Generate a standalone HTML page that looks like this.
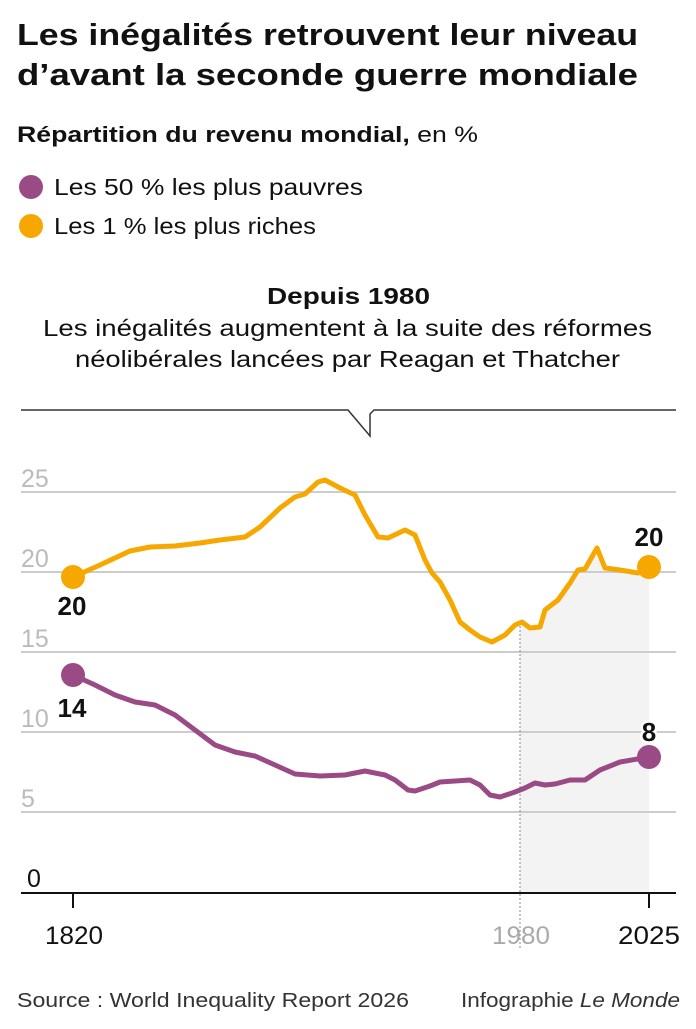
<!DOCTYPE html>
<html><head><meta charset="utf-8"><style>
body{margin:0;background:#fff;width:696px;height:1024px;overflow:hidden;font-family:"Liberation Sans",sans-serif;}
</style></head><body>
<svg width="696" height="1024" xmlns="http://www.w3.org/2000/svg" font-family="Liberation Sans, sans-serif">
<text x="17" y="45" font-size="31" font-weight="bold" fill="#111" textLength="621" lengthAdjust="spacingAndGlyphs">Les inégalités retrouvent leur niveau</text>
<text x="17" y="85" font-size="31" font-weight="bold" fill="#111" textLength="621" lengthAdjust="spacingAndGlyphs">d’avant la seconde guerre mondiale</text>
<text x="17" y="142" font-size="22" fill="#111" textLength="461" lengthAdjust="spacingAndGlyphs"><tspan font-weight="bold">Répartition du revenu mondial,</tspan> en %</text>
<circle cx="31" cy="187" r="12" fill="#9a4a84"/>
<text x="54" y="195" font-size="23" fill="#111" textLength="309" lengthAdjust="spacingAndGlyphs">Les 50 % les plus pauvres</text>
<circle cx="31" cy="226" r="12" fill="#f6a800"/>
<text x="54" y="234" font-size="23" fill="#111" textLength="262" lengthAdjust="spacingAndGlyphs">Les 1 % les plus riches</text>
<text x="267" y="304" font-size="23" font-weight="bold" fill="#111" textLength="163" lengthAdjust="spacingAndGlyphs">Depuis 1980</text>
<text x="43" y="336" font-size="23" fill="#111" textLength="609" lengthAdjust="spacingAndGlyphs">Les inégalités augmentent à la suite des réformes</text>
<text x="75" y="367" font-size="23" fill="#111" textLength="545" lengthAdjust="spacingAndGlyphs">néolibérales lancées par Reagan et Thatcher</text>
<path d="M21 410 H348 L370 436 V414 L374 410 H676" fill="none" stroke="#333" stroke-width="1.5"/>
<polygon fill="#f3f3f3" points="520,622 522,622 530,628 540,627 545,610 558,600 570,583 578,570 585,569 597,548 605,568 620,570 638,573 649,567 649,893 520,893"/>
<g stroke="#ccc" stroke-width="2">
<line x1="21" y1="492" x2="676" y2="492"/><line x1="21" y1="572" x2="676" y2="572"/>
<line x1="21" y1="652" x2="676" y2="652"/><line x1="21" y1="732" x2="676" y2="732"/>
<line x1="21" y1="812" x2="676" y2="812"/></g>
<line x1="520" y1="622" x2="520" y2="948" stroke="#888" stroke-width="1" stroke-dasharray="2,2"/>
<line x1="21" y1="893" x2="676" y2="893" stroke="#111" stroke-width="2"/>
<line x1="73" y1="893" x2="73" y2="908" stroke="#111" stroke-width="2"/>
<line x1="649" y1="893" x2="649" y2="908" stroke="#111" stroke-width="2"/>
<g font-size="25" fill="#bbb"><text x="21" y="487">25</text><text x="21" y="567">20</text><text x="21" y="647">15</text><text x="21" y="727">10</text><text x="21" y="807">5</text></g>
<text x="27" y="887" font-size="25" fill="#111">0</text>
<text x="45" y="944" font-size="25" fill="#111" textLength="58" lengthAdjust="spacingAndGlyphs">1820</text>
<text x="492" y="944" font-size="25" fill="#aaa" textLength="58" lengthAdjust="spacingAndGlyphs">1980</text>
<text x="618" y="944" font-size="25" fill="#111" textLength="62" lengthAdjust="spacingAndGlyphs">2025</text>
<polyline fill="none" stroke="#f6a800" stroke-width="5" stroke-linejoin="round" points="73,577 100,565 130,551 150,547 175,546 200,543 220,540 245,537 260,527 280,508 295,497 305,494 318,482 325,480 340,488 355,495 365,515 378,537 388,538 405,530 415,535 425,560 432,573 440,582 450,600 460,622 470,630 480,637 492,642 505,635 515,625 522,622 530,628 540,627 545,610 558,600 570,583 578,570 585,569 597,548 605,568 620,570 638,573 649,567"/>
<polyline fill="none" stroke="#9a4a84" stroke-width="5" stroke-linejoin="round" points="73,675 95,685 115,695 135,702 155,705 175,715 195,730 215,745 235,752 255,756 275,765 295,774 320,776 345,775 365,771 385,775 395,780 408,790 415,791 430,786 440,782 455,781 470,780 480,785 490,795 500,797 515,792 525,788 535,783 545,785 555,784 570,780 585,780 600,770 620,762 649,757"/>
<circle cx="73" cy="577" r="12" fill="#f6a800"/><circle cx="649" cy="567" r="12" fill="#f6a800"/>
<circle cx="73" cy="675" r="12" fill="#9a4a84"/><circle cx="649" cy="757" r="12" fill="#9a4a84"/>
<g font-size="26" font-weight="bold" text-anchor="middle" fill="#111" stroke="#fff" stroke-width="5" paint-order="stroke">
<text x="72" y="615">20</text><text x="72" y="717">14</text><text x="649" y="546">20</text><text x="649" y="741">8</text></g>
<text x="17" y="1007" font-size="20" fill="#333" textLength="392" lengthAdjust="spacingAndGlyphs">Source : World Inequality Report 2026</text>
<text x="461" y="1007" font-size="20" fill="#333" textLength="219" lengthAdjust="spacingAndGlyphs">Infographie <tspan font-style="italic">Le Monde</tspan></text>
</svg>
</body></html>
